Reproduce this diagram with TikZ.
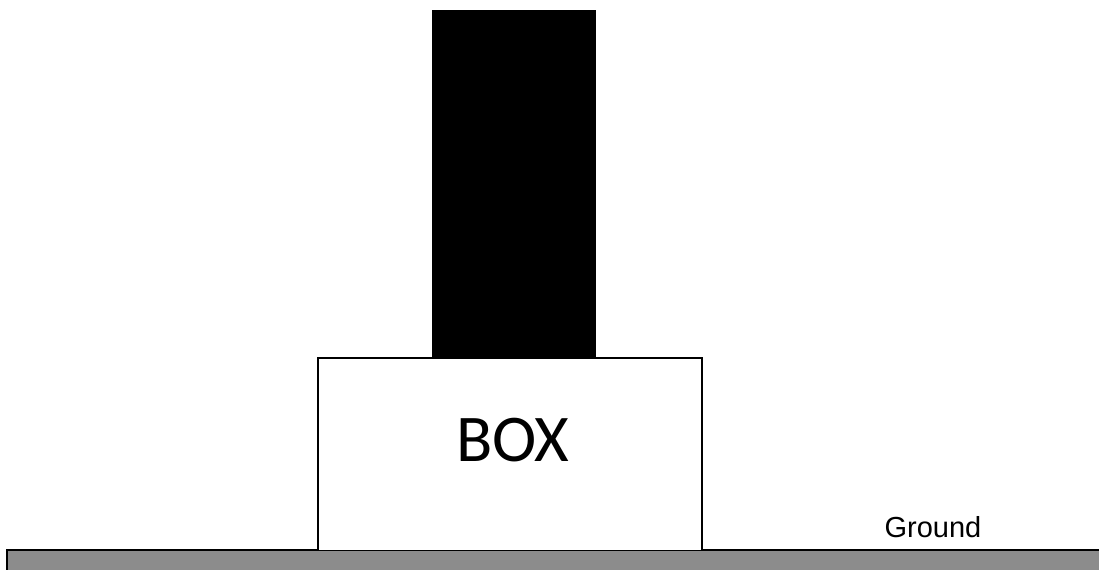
\documentclass[tikz,border=0pt]{standalone}
\usepackage{fontspec}
\setmainfont{Liberation Sans}
\newfontfamily\boxfont{Carlito}
\usepackage{xcolor}

\begin{document}
\begin{tikzpicture}[x=0.02cm,y=-0.02cm,every node/.style={inner sep=0pt}]
\useasboundingbox (0,0) rectangle (1099,570);
% ground strip
\fill[black!45] (7,550) rectangle (1105,576);
\draw[line width=1.1pt] (7,576) -- (7,550) -- (1105,550);
% pillar on the box
\fill[black] (432,10) rectangle (596,358);
% box
\fill[white] (318,358) rectangle (702,550);
\draw[line width=1.1pt] (318,550) -- (318,358) -- (702,358) -- (702,550);
\node[anchor=base] (boxlabel) at (513,462) {\boxfont\fontsize{38}{44}\selectfont BOX};
\node (groundlabel) at (933,527) {\fontsize{16.5}{19}\selectfont Ground};
\end{tikzpicture}
\end{document}
